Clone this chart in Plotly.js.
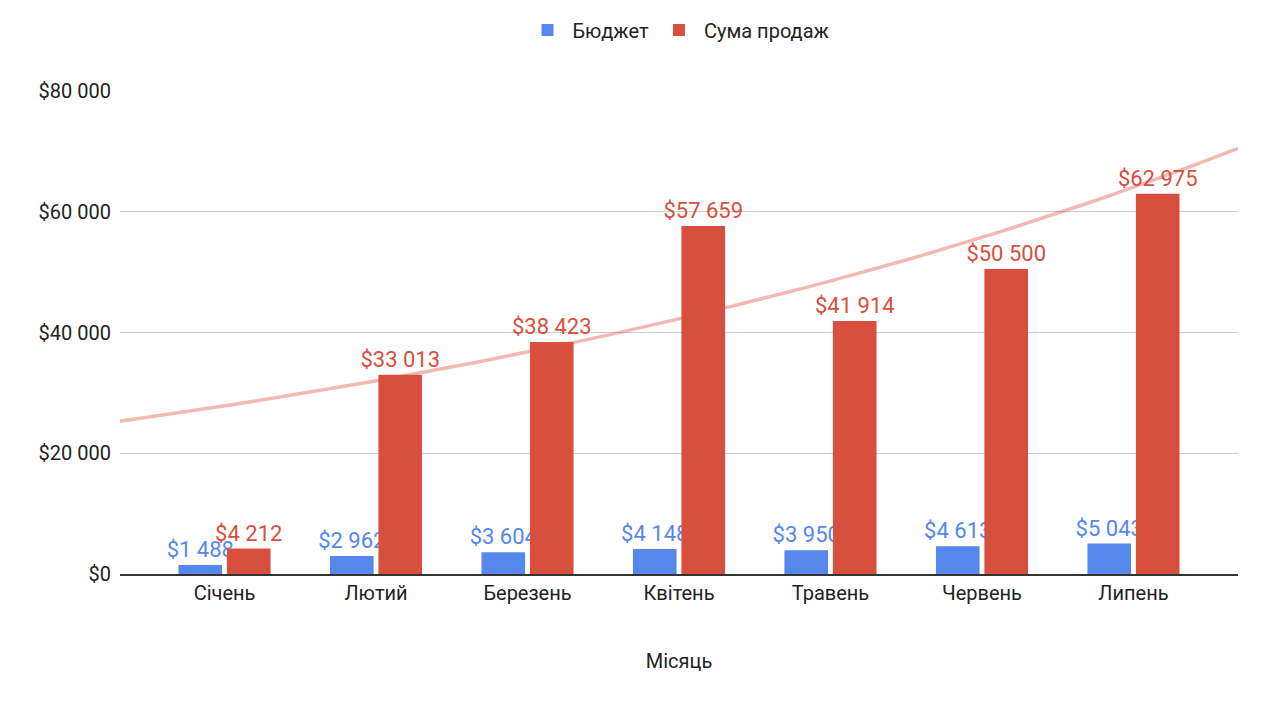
<!DOCTYPE html>
<html>
<head>
<meta charset="utf-8">
<script src="https://cdn.plot.ly/plotly-3.0.1.min.js"></script>
<style>body{margin:0;background:#fff}#chart{width:1267px;height:705px}</style>
</head>
<body>
<div id="chart"></div>
<script>
const months = ['Січень', 'Лютий', 'Березень', 'Квітень', 'Травень', 'Червень', 'Липень']
const budget = [1488, 2962, 3604, 4148, 3950, 4613, 5043]
const sales = [4212, 33013, 38423, 57659, 41914, 50500, 62975]
const yTicks = [0, 20000, 40000, 60000, 80000]
const yTickText = ['$0', '$20 000', '$40 000', '$60 000', '$80 000']
// exponential trendline at the plot edges
const trendStart = 25300, trendEnd = 70500

const xLo = -0.69, xHi = 6.69
const trendX = [], trendY = []
for (let i = 0; i <= 60; i++) {
    let x = xLo + (xHi - xLo) * i / 60
    trendX.push(x)
    trendY.push(trendStart * Math.pow(trendEnd / trendStart, i / 60))
}

const blue = '#5587ec', red = '#d94f3e'
const idx = months.map((m, i) => i)

Plotly.newPlot('chart', [
    { type: 'bar', name: 'Бюджет', x: idx, y: budget, marker: { color: blue },
      texttemplate: '$%{y:,}', textposition: 'outside', cliponaxis: false, constraintext: 'none',
      textfont: { color: blue, size: 22, family: 'Roboto' } },
    { type: 'bar', name: 'Сума продаж', x: idx, y: sales, marker: { color: red },
      texttemplate: '$%{y:,}', textposition: 'outside', cliponaxis: false, constraintext: 'none',
      textfont: { color: red, size: 22, family: 'Roboto' } },
    { type: 'scatter', mode: 'lines', x: trendX, y: trendY, showlegend: false,
      hoverinfo: 'skip', line: { color: 'rgba(217,79,62,0.4)', width: 3.5 } }
], {
    separators: '. ',
    font: { family: 'Roboto', size: 20, color: '#222' },
    margin: { l: 120, r: 29, t: 91, b: 131, autoexpand: false },
    barmode: 'group', bargap: 0.36, bargroupgap: 0.1,
    showlegend: true,
    legend: { orientation: 'h', x: 0.5, xanchor: 'center', yref: 'container', y: 0.985, yanchor: 'top',
              font: { size: 20, color: '#222' }, itemwidth: 40 },
    xaxis: { range: [xLo, xHi], tickvals: idx, ticktext: months, showgrid: false,
             zeroline: false, ticks: '', showline: true, linecolor: '#333', linewidth: 1.5,
             title: { text: 'Місяць', font: { size: 20 }, standoff: 50 } },
    yaxis: { range: [0, 80000], tickvals: yTicks, ticktext: yTickText,
             gridcolor: '#cccccc', zeroline: false, ticks: '', ticklabelstandoff: 8 },
    plot_bgcolor: '#fff', paper_bgcolor: '#fff'
}, { displayModeBar: false })
</script>
</body>
</html>
